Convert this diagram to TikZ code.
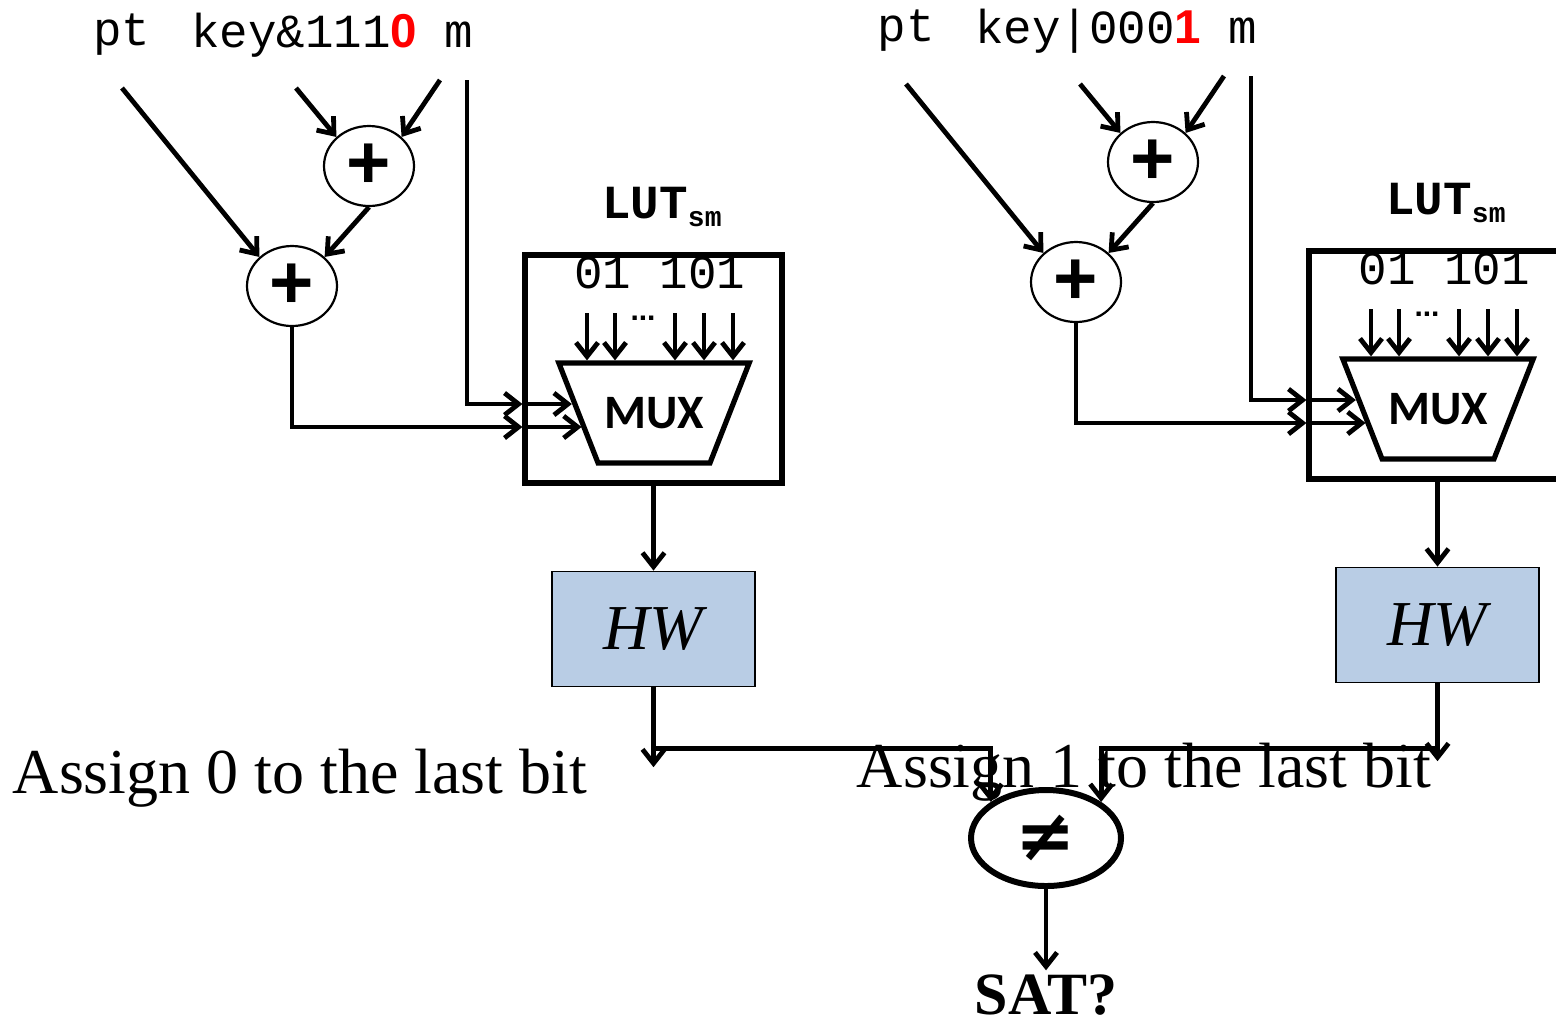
\documentclass[tikz,border=0pt]{standalone}
\usepackage{fontspec}
\setmainfont{Liberation Serif}
\newfontfamily\monofont{Liberation Mono}
\newfontfamily\sansfont{Liberation Sans}
\newfontfamily\muxfont{Carlito}
\newfontfamily\symfont{DejaVu Sans}
\usetikzlibrary{positioning,shapes.geometric,arrows.meta,calc}
\definecolor{hwblue}{HTML}{B9CDE5}

\begin{document}
\begin{tikzpicture}[
  x=0.5pt, y=-0.5pt,
  line width=2.4pt,
  >={Straight Barb[length=7pt,width=11pt]},
  mono/.style={font=\monofont\fontsize{23.75}{28}\selectfont, inner sep=0pt},
  plus/.style={draw, ellipse, line width=1.1pt, minimum width=45pt, minimum height=40pt, inner sep=0pt, font=\sansfont\bfseries\fontsize{38}{38}\selectfont},
  lutbox/.style={draw, line width=2.6pt, minimum width=128.5pt, minimum height=114pt, inner sep=0pt},
  lutlbl/.style={font=\monofont\bfseries\fontsize{23.75}{28}\selectfont, inner sep=0pt},
  mux/.style={draw, line width=2.6pt, trapezium, shape border rotate=180, trapezium angle=42, trapezium stretches=true, minimum width=96pt, minimum height=50pt, inner sep=0pt, font=\muxfont\bfseries\fontsize{24}{24}\selectfont},
  hw/.style={draw, fill=hwblue, line width=0.8pt, minimum width=101.5pt, minimum height=57.5pt, font=\itshape\fontsize{32}{32}\selectfont},
  neq/.style={draw, ellipse, line width=3pt, minimum width=75pt, minimum height=48pt, inner sep=0pt, font=\symfont\bfseries\fontsize{36}{36}\selectfont},
  note/.style={font=\fontsize{32}{32}\selectfont, inner sep=0pt}
]
\useasboundingbox (0,0) rectangle (1556,1025);

% the two halves: last key bit set to 0 and to 1
\foreach \s/\dx/\dy/\kt in {A/0/0/{key\&111{\sansfont\bfseries\color{red}0}}, B/784/-4/{key{\textbar}000{\sansfont\bfseries\color{red}1}}} {
\begin{scope}[shift={(\dx,\dy)}]
  \node[mono] (pt\s)  at (122,35) {pt};
  \node[mono] (key\s) at (304,35) {\kt};
  \node[mono] (m\s)   at (459,35) {m};
  \coordinate (ptS\s) at (122,88);
  \coordinate (kS\s)  at (296,88);
  \coordinate (mS\s)  at (440,80);
  \coordinate (mV\s)  at (467,80);

  \node[plus] (pa\s) at (369,166) {+};
  \node[plus] (pb\s) at (292,286) {+};

  \node[lutbox] (lut\s) at (653.5,369) {};
  \node[lutlbl] (lbl\s) at (662,207) {LUT\raisebox{-4pt}{\fontsize{14}{14}\selectfont sm}};
  \node[mono] (bits\s) at (660,273) {01 101};
  \node[mux] (mux\s) at (654,413) {MUX};
  \node[font=\sansfont\bfseries\fontsize{15}{15}\selectfont, inner sep=0pt] (dots\s) at (643,318) {...};
  \node[hw] (hw\s) [below=42.5pt of lut\s] {HW};

  \coordinate (selA\s) at ($(mux\s.west)+(-3.8,-9)$);
  \coordinate (selB\s) at ($(mux\s.west)+(5.9,14)$);

  \draw[->] (ptS\s) -- (pb\s.north west);
  \draw[->] (kS\s) -- (pa\s.north west);
  \draw[->] (mS\s) -- (pa\s.north east);
  \draw[->] (pa\s.south) -- (pb\s.north east);
  \draw[->] (mV\s) |- (lut\s.west |- selA\s);
  \draw[->] (lut\s.west |- selA\s) -- (selA\s);
  \draw[->] (pb\s.south) |- (lut\s.west |- selB\s);
  \draw[->] (lut\s.west |- selB\s) -- (selB\s);
  \foreach \x in {587,615,675,704,733}
    \draw[->] (\x,313) -- (\x,0 |- mux\s.north);
  \draw[->] (lut\s.south) -- (hw\s.north);
\end{scope}
}

\node[note] (asgA) at (300,778) {Assign 0 to the last bit};
\node[note] (asgB) at (1144,772) {Assign 1 to the last bit};

\node[neq] (neq) at (1046,838) {≠};
\node[font=\bfseries\fontsize{30}{30}\selectfont, inner sep=1pt] (sat) at (1046,995) {SAT?};

\draw[->] (hwA.south) -- ++(0,80);
\draw[->] (hwA.south) ++(0,61) -| (neq.north west);
\draw[->] (hwB.south) -- ++(0,78);
\draw[->] (hwB.south) ++(0,65) -| (neq.north east);
\draw[->] (neq) -- (sat);
\end{tikzpicture}
\end{document}
